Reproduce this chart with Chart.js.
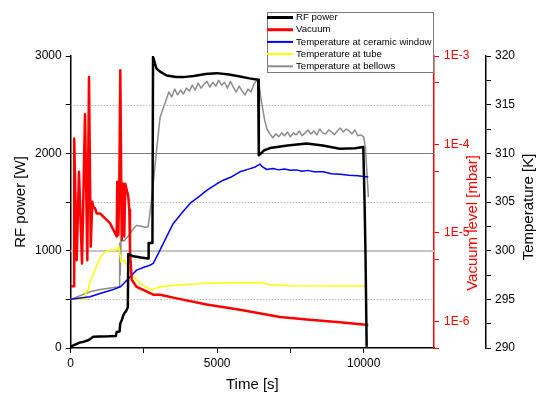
<!DOCTYPE html>
<html><head><meta charset="utf-8">
<script src="https://cdn.jsdelivr.net/npm/chart.js@4.4.0/dist/chart.umd.min.js"></script>
<style>html,body{margin:0;padding:0;background:#fff}</style>
</head><body>
<canvas id="c" width="540" height="395"></canvas>
<script>
// ---- data ----
const rfTime = [0,150,300,450,600,700,770,1000,1300,1540,1570,1670,1690,1740,1815,1900,1950,1966,2100,2400,2640,2660,2790,2810,2930,3050,3276,3600,3843,4200,4600,4983,5400,5778,6100,6400,6420,6600,6802,7400,8055,8600,9191,9700,9986,10030,10060,10102];
const rfPower = [13,35,55,65,80,100,116,118,120,124,165,170,250,285,350,385,420,966,945,930,920,1080,1080,2990,2869,2840,2800,2785,2783,2795,2815,2824,2810,2790,2770,2756,1980,2030,2054,2080,2100,2080,2048,2052,2065,1500,1005,13];

const vacTime = [0,113,120,205,283,386,488,567,625,683,737,771,830,887,1000,1341,1570,1590,1625,1659,1693,1741,1785,1829,1863,1966,2000,2024,2082,2253,2819,3048,3618,4642,5778,7143,8055,9191,10157];
const vacLevel = [2.5e-6,2.5e-6,1.17e-4,4.9e-6,4.9e-5,4.5e-6,2.2e-4,4.9e-6,5.8e-4,7.0e-6,2.25e-5,1.98e-5,1.9e-5,1.66e-5,1.66e-5,1.29e-5,9.1e-6,3.8e-5,9.5e-6,3.6e-5,6.9e-4,8.3e-6,3.6e-5,9.1e-6,3.6e-5,2.57e-5,1.82e-5,6.5e-6,2.95e-6,2.45e-6,2.0e-6,2.0e-6,1.82e-6,1.55e-6,1.35e-6,1.12e-6,1.05e-6,9.8e-7,9.1e-7];

const ceramicTime = [0,660,1000,1400,1700,2022,2250,2500,2700,2819,3048,3300,3502,3800,4072,4400,4642,5000,5208,5500,5778,6100,6300,6461,6550,6689,6900,7100,7300,7485,7700,7900,8100,8300,8621,8900,9191,9500,9800,10157];
const ceramicTemp = [295.0,295.27,295.6,295.95,296.29,297.3,298.0,298.3,298.5,298.69,300.06,301.6,302.8,303.9,304.85,305.6,306.2,306.9,307.24,307.6,308.1,308.4,308.6,308.89,308.6,308.34,308.45,308.3,308.4,308.27,308.3,308.15,308.25,308.1,308.1,307.9,307.86,307.75,307.7,307.58];

const tubeTime = [0,480,530,580,660,828,999,1169,1340,1545,1647,1715,1851,2022,2363,2762,3048,3614,4691,6454,6795,7477,10147];
const tubeTemp = [295.0,295.0,295.9,295.8,296.88,298.0,299.24,299.85,300.06,300.06,300.47,298.83,299.03,297.7,296.64,295.95,296.29,296.47,296.64,296.74,296.5,296.39,296.36];

const bellowsTime = [0,660,1000,1650,1670,1690,1720,1820,1966,2100,2250,2400,2540,2640,2700,2760,2870,2930,3050,3200,3350,3450,3550,3650,3750,3850,3950,4050,4150,4250,4350,4450,4550,4650,4750,4850,4950,5050,5150,5250,5350,5450,5550,5650,5750,5850,5950,6050,6150,6250,6350,6420,6500,6620,6700,6800,6900,7000,7100,7200,7300,7400,7500,7600,7700,7800,7900,8000,8100,8200,8300,8400,8500,8600,8700,8800,8900,9000,9100,9200,9300,9400,9500,9600,9700,9800,9900,10000,10060,10160];
const bellowsTemp = [295.0,295.78,296.02,296.29,300.8,297.5,301.1,301.0,301.5,302.1,302.6,302.5,302.4,302.45,303.8,305.2,308.5,310.3,313.7,315.0,316.3,315.8,316.6,316.0,316.5,316.1,316.7,316.4,317.0,316.5,317.2,316.7,317.1,317.4,316.8,317.3,316.9,317.5,317.0,317.3,316.7,317.4,316.8,316.3,316.9,316.4,316.0,316.6,316.3,317.1,317.5,317.2,315.5,313.4,312.5,312.0,311.6,312.0,311.7,312.1,311.8,312.2,311.7,312.1,311.9,312.3,311.8,312.1,312.4,312.0,312.3,311.9,312.5,312.1,312.0,312.4,312.2,311.9,312.3,312.6,312.2,312.5,312.3,312.0,312.4,311.8,311.9,311.7,310.5,305.5];

const xTicks = [0,2500,5000,7500,10000];
const xTicksMajor = 5000;
const vacTicks = [5e-7,1e-6,5e-6,1e-5,5e-5,1e-4,5e-4,1e-3];
const gridDotted = [500,1500,2500];
const gridDark = [2000];
const gridLight = [1000];

const FONT = 'Liberation Sans, Arial, sans-serif';
const pts = (xs, ys) => xs.map((x, i) => ({x, y: ys[i]}));

const datasets = [
  {label:'RF power', data: pts(rfTime, rfPower), yAxisID:'y', borderColor:'#000000', borderWidth:2.5},
  {label:'Vacuum', data: pts(vacTime, vacLevel), yAxisID:'yVac', borderColor:'#ff0000', borderWidth:2.5},
  {label:'Temperature at ceramic window', data: pts(ceramicTime, ceramicTemp), yAxisID:'yT', borderColor:'#0000ff', borderWidth:1.5},
  {label:'Temperature at tube', data: pts(tubeTime, tubeTemp), yAxisID:'yT', borderColor:'#ffff00', borderWidth:1.5},
  {label:'Temperature at bellows', data: pts(bellowsTime, bellowsTemp), yAxisID:'yT', borderColor:'#8c8c8c', borderWidth:1.5}
].map(d => Object.assign(d, {pointRadius:0, tension:0, fill:false, borderJoinStyle:'round'}));

const gridPlugin = {
  id: 'customGrid',
  beforeDatasetsDraw(chart) {
    const {ctx, chartArea: a, scales} = chart;
    const y = scales.y;
    ctx.save();
    const hline = (v, color, w, dash) => {
      const p = Math.round(y.getPixelForValue(v)) + (w % 2 ? 0.5 : 0);
      ctx.beginPath();
      ctx.setLineDash(dash);
      ctx.strokeStyle = color; ctx.lineWidth = w;
      ctx.moveTo(a.left, p); ctx.lineTo(a.right, p); ctx.stroke();
    };
    gridDotted.forEach(v => hline(v, '#9a9a9a', 1, [1, 2]));
    gridDark.forEach(v => hline(v, '#7a7a7a', 1, []));
    gridLight.forEach(v => hline(v, '#c4c4c4', 2, []));
    ctx.restore();
  }
};

const decoPlugin = {
  id: 'deco',
  afterDraw(chart) {
    const {ctx} = chart;
    ctx.save();
    ctx.font = '15px ' + FONT;
    ctx.textAlign = 'center'; ctx.textBaseline = 'middle';
    const vt = (txt, x, y, color) => {
      ctx.save(); ctx.translate(x, y); ctx.rotate(-Math.PI / 2);
      ctx.fillStyle = color; ctx.fillText(txt, 0, 0); ctx.restore();
    };
    vt('Vacuum level [mbar]', 473, 223, '#ff0000');
    vt('Temperature [K]', 529, 207, '#000000');
    const bx = 267, by = 12, bw = 166, bh = 60;
    ctx.fillStyle = '#ffffff';
    ctx.fillRect(bx, by, bw, bh);
    ctx.strokeStyle = '#7a7a7a'; ctx.lineWidth = 1; ctx.setLineDash([]);
    ctx.strokeRect(bx + 0.5, by + 0.5, bw, bh);
    ctx.font = '9.6px ' + FONT;
    ctx.textAlign = 'left'; ctx.textBaseline = 'middle';
    chart.data.datasets.forEach((d, i) => {
      const yy = by + 5.5 + i * 12.2;
      ctx.beginPath();
      ctx.strokeStyle = d.borderColor; ctx.lineWidth = d.borderWidth + 0.5;
      ctx.moveTo(bx, yy); ctx.lineTo(bx + 26, yy); ctx.stroke();
      ctx.fillStyle = '#000';
      ctx.fillText(d.label, bx + 29, yy);
    });
    ctx.restore();
  }
};

new Chart(document.getElementById('c'), {
  type: 'line',
  data: {datasets},
  plugins: [gridPlugin, decoPlugin],
  options: {
    responsive: false,
    animation: false,
    events: [],
    layout: {padding: {top: 56, left: 0, right: 0, bottom: 0}},
    plugins: {legend: {display: false}, tooltip: {enabled: false}},
    scales: {
      x: {
        type: 'linear', min: 0, max: 12400, position: 'bottom',
        afterFit: s => { s.height = 47; },
        afterBuildTicks: s => { s.ticks = xTicks.map(v => ({value: v})); },
        border: {color: '#000', width: 1.5},
        grid: {drawOnChartArea: false, tickColor: '#000', tickLength: 5},
        ticks: {autoSkip: false, maxRotation: 0, color: '#000', padding: 3,
          font: {family: FONT, size: 12},
          callback: v => (v % xTicksMajor === 0 ? String(v) : '')},
        title: {display: true, text: 'Time [s]', color: '#000', font: {family: FONT, size: 15}, padding: {top: 0, bottom: 1}}
      },
      y: {
        type: 'linear', min: 0, max: 3000, position: 'left',
        afterFit: s => { s.width = 70.7; },
        border: {color: '#000', width: 1.5},
        grid: {drawOnChartArea: false, tickColor: '#000', tickLength: 5},
        ticks: {stepSize: 500, autoSkip: false, color: '#000', padding: 4, font: {family: FONT, size: 12},
          callback: v => (v % 1000 === 0 ? String(v) : '')},
        title: {display: true, text: 'RF power [W]', color: '#000', font: {family: FONT, size: 15}, padding: {top: 12, bottom: 0}}
      },
      yVac: {
        type: 'logarithmic', min: 5e-7, max: 1e-3, position: 'right', weight: 1,
        afterFit: s => { s.width = 52; },
        afterBuildTicks: s => { s.ticks = vacTicks.map(v => ({value: v})); },
        border: {color: '#ff0000', width: 1.5},
        grid: {drawOnChartArea: false, tickColor: '#ff0000', tickLength: 5},
        ticks: {autoSkip: false, color: '#ff0000', padding: 5, font: {family: FONT, size: 12},
          callback: v => { const l = Math.log10(v); return Math.abs(l - Math.round(l)) < 1e-6 ? '1E' + Math.round(l) : ''; }}
      },
      yT: {
        type: 'linear', min: 290, max: 320, position: 'right', weight: 2,
        afterFit: s => { s.width = 54; },
        border: {color: '#000', width: 1.5},
        grid: {drawOnChartArea: false, tickColor: '#000', tickLength: 5},
        ticks: {stepSize: 2.5, autoSkip: false, color: '#000', padding: 4, font: {family: FONT, size: 12},
          callback: v => (v % 5 === 0 ? String(v) : '')}
      }
    }
  }
});
</script>
</body></html>
